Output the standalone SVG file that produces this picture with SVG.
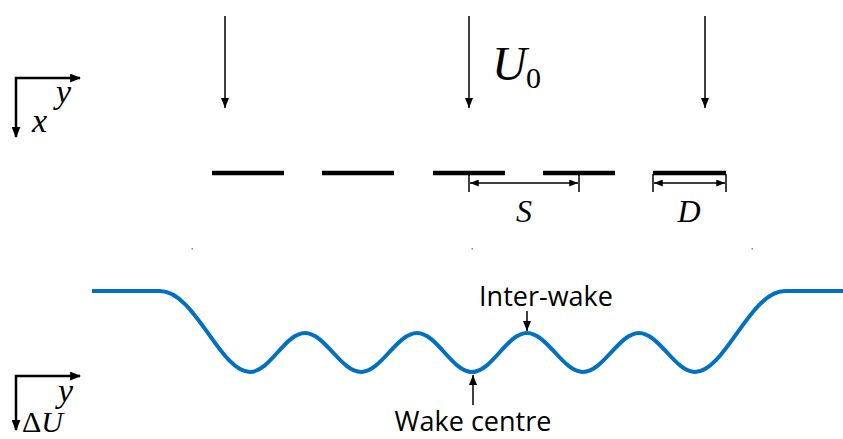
<svg xmlns="http://www.w3.org/2000/svg" width="843" height="439" viewBox="0 0 843 439">
<style>
.ln{stroke:#000;stroke-width:1.5;fill:none}
.ax{stroke:#000;stroke-width:2.5;fill:none}
.plate{stroke:#000;stroke-width:4.5;fill:none}
.math{font-family:"Liberation Serif",serif;font-style:italic;fill:#000}
.lbl{font-family:"Open Sans","Noto Sans",sans-serif;fill:#000;font-size:27px}
</style>
<defs>
<marker id="ah" viewBox="0 0 10 8" refX="10" refY="4" markerWidth="10" markerHeight="8" markerUnits="userSpaceOnUse" orient="auto">
<path d="M0,0 L10,4 L0,8 Z" fill="#000"/>
</marker>
<marker id="ahs" viewBox="0 0 10 8" refX="10" refY="4" markerWidth="9" markerHeight="7" markerUnits="userSpaceOnUse" orient="auto-start-reverse">
<path d="M0,0 L10,4 L0,8 Z" fill="#000"/>
</marker>
<marker id="aha" viewBox="0 0 10 8" refX="9" refY="4" markerWidth="11" markerHeight="9" markerUnits="userSpaceOnUse" orient="auto-start-reverse">
<path d="M0,0 L10,4 L0,8 Z" fill="#000"/>
</marker>
</defs>

<g id="connectors">
<line class="ln" x1="225" y1="16" x2="225" y2="108" marker-end="url(#ah)"/>
<line class="ln" x1="469" y1="16" x2="469" y2="108" marker-end="url(#ah)"/>
<line class="ln" x1="705" y1="16" x2="705" y2="108" marker-end="url(#ah)"/>
<line class="ln" x1="527" y1="311" x2="527" y2="331" marker-end="url(#ah)"/>
<line class="ln" x1="473" y1="405" x2="473" y2="375" marker-end="url(#ah)"/>
</g>

<g id="axes-top">
<polyline class="ax" points="16,137 16,78 80,78" marker-start="url(#aha)" marker-end="url(#aha)"/>
<text class="math" x="56" y="103" font-size="34">y</text>
<text class="math" x="32" y="132" font-size="34">x</text>
</g>

<g id="plates">
<line class="plate" x1="212" y1="173" x2="284" y2="173"/>
<line class="plate" x1="322" y1="173" x2="394" y2="173"/>
<line class="plate" x1="433" y1="173" x2="505" y2="173"/>
<line class="plate" x1="543" y1="173" x2="615" y2="173"/>
<line class="plate" x1="653" y1="173" x2="726" y2="173"/>
</g>

<g id="dim-S">
<line class="ln" x1="469" y1="174" x2="469" y2="192"/>
<line class="ln" x1="579" y1="174" x2="579" y2="192"/>
<line class="ln" x1="470" y1="183" x2="578" y2="183" marker-start="url(#ahs)" marker-end="url(#ahs)"/>
<text class="math" x="524" y="222" font-size="32" text-anchor="middle">S</text>
</g>

<g id="dim-D">
<line class="ln" x1="653" y1="174" x2="653" y2="192"/>
<line class="ln" x1="726" y1="174" x2="726" y2="192"/>
<line class="ln" x1="654" y1="183" x2="725" y2="183" marker-start="url(#ahs)" marker-end="url(#ahs)"/>
<text class="math" x="689" y="222" font-size="32" text-anchor="middle">D</text>
</g>

<g id="U0">
<text class="math" x="492" y="80" font-size="48">U</text>
<text x="526" y="88" font-size="30" font-family="Liberation Serif,serif" fill="#000">0</text>
</g>

<g id="dots" fill="#888">
<rect x="191.5" y="248" width="1.5" height="1.5"/>
<rect x="471.5" y="248" width="1.5" height="1.5"/>
<rect x="751.5" y="248" width="1.5" height="1.5"/>
</g>

<g id="profile">
<path d="M92,291 L160,291 C195,291 220,372 250,372 C270,372 285,333 305,333 C325,333 341,372 361,372 C381,372 397,333 417,333 C437,333 452,372 472,372 C492,372 507,333 527,333 C547,333 563,372 583,372 C603,372 619,333 639,333 C659,333 675,372 695,372 C725,372 750,291 785,291 L843,291" fill="none" stroke="#0070C0" stroke-width="4"/>
</g>

<g id="label-interwake">
<text class="lbl" x="546" y="306" text-anchor="middle">Inter-wake</text>
</g>
<g id="label-wakecentre">
<text class="lbl" x="473" y="431" text-anchor="middle">Wake centre</text>
</g>

<g id="axes-bottom">
<polyline class="ax" points="16,430 16,376 80,376" marker-start="url(#aha)" marker-end="url(#aha)"/>
<text class="math" x="58" y="402" font-size="34">y</text>
<text x="22" y="432" font-size="30" font-family="Liberation Serif,serif" fill="#000">Δ<tspan font-style="italic">U</tspan></text>
</g>
</svg>
